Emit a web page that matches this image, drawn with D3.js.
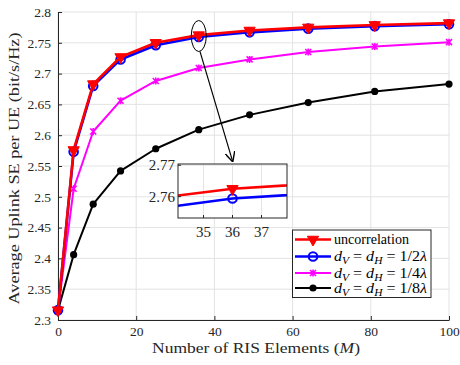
<!DOCTYPE html>
<html><head><meta charset="utf-8">
<script src="https://cdn.jsdelivr.net/npm/d3@7"></script>
</head><body style="margin:0"><svg id="c" width="460" height="365" style="display:block"></svg>
<script>
const M = [0, 4, 9, 16, 25, 36, 49, 64, 81, 100];
const uncorr = [2.316, 2.576, 2.683, 2.727, 2.750, 2.7625, 2.770, 2.775, 2.779, 2.782];
const half = [2.316, 2.573, 2.680, 2.723, 2.746, 2.7594, 2.767, 2.773, 2.777, 2.780];
const quarter = [2.316, 2.513, 2.606, 2.656, 2.688, 2.709, 2.723, 2.735, 2.744, 2.751];
const eighth = [2.316, 2.406, 2.488, 2.542, 2.578, 2.609, 2.633, 2.653, 2.671, 2.683];
const yTicks = [2.3, 2.35, 2.4, 2.45, 2.5, 2.55, 2.6, 2.65, 2.7, 2.75, 2.8];
const xTicks = [0, 20, 40, 60, 80, 100];
const insetXTicks = [35, 36, 37];
const insetYTicks = [2.76, 2.77];
const seriesNames = ["uncorrelation", "1/2", "1/4", "1/8"];

const FONT = '"Liberation Serif"';
const series = [
  {vals: uncorr, color: "#ff0000", w: 2.6, marker: "tri"},
  {vals: half, color: "#0000ff", w: 2.6, marker: "circ"},
  {vals: quarter, color: "#ff00ff", w: 2, marker: "star"},
  {vals: eighth, color: "#000000", w: 2, marker: "dot"}
];

const svg = d3.select("#c");
const x = d3.scaleLinear().domain([0, 100]).range([58, 449]);
const y = d3.scaleLinear().domain([2.3, 2.8]).range([320, 12]);

// grid
const g = svg.append("g");
g.selectAll(".gx").data(xTicks).join("line").attr("x1", d => x(d)).attr("x2", d => x(d)).attr("y1", y(2.3)).attr("y2", y(2.8)).attr("stroke", "#e3e3e3").attr("stroke-width", 1);
g.selectAll(".gy").data(yTicks).join("line").attr("y1", d => y(d)).attr("y2", d => y(d)).attr("x1", x(0)).attr("x2", x(100)).attr("stroke", "#e3e3e3").attr("stroke-width", 1);

// axes
const ax = svg.append("g").attr("transform", `translate(0,${y(2.3)})`).call(d3.axisBottom(x).tickValues(xTicks).tickSizeInner(-4).tickSizeOuter(0).tickPadding(6));
const ay = svg.append("g").attr("transform", `translate(${x(0)},0)`).call(d3.axisLeft(y).tickValues(yTicks).tickFormat(d => String(d)).tickSizeInner(-4).tickSizeOuter(0).tickPadding(7));
[ax, ay].forEach(a => {
  a.attr("font-family", "Liberation Serif");
  a.select(".domain").attr("stroke", "#262626").attr("stroke-width", 1);
  a.selectAll(".tick line").attr("stroke", "#262626");
  a.selectAll("text").attr("font-size", 13.5).attr("fill", "#262626").attr("font-family", "Liberation Serif").style("font-family", FONT);
});

function drawMarker(sel, type, color, size) {
  if (type === "tri") {
    sel.append("path").attr("d", d3.symbol(d3.symbolTriangle, size)()).attr("transform", "rotate(180)").attr("fill", color).attr("stroke", color).attr("stroke-width", 1);
  } else if (type === "circ") {
    sel.append("circle").attr("r", 4.3).attr("fill", "none").attr("stroke", color).attr("stroke-width", 2);
  } else if (type === "star") {
    sel.append("path").attr("d", "M-3,-3L3,3M-3,3L3,-3M0,-3.5L0,3.5").attr("stroke", color).attr("stroke-width", 1.6).attr("fill", "none");
  } else {
    sel.append("circle").attr("r", 3.6).attr("fill", color);
  }
}

const line = d3.line().x((d, i) => x(M[i])).y(d => y(d));
series.slice().reverse().forEach(s => {
  svg.append("path").datum(s.vals).attr("d", line).attr("fill", "none").attr("stroke", s.color).attr("stroke-width", s.w).attr("stroke-linejoin", "round");
  s.vals.forEach((v, i) => {
    const m = svg.append("g").attr("transform", `translate(${x(M[i])},${y(v)})`);
    drawMarker(m, s.marker, s.color, 55);
  });
});

function txt(sel) { return sel.append("text").attr("font-family", "Liberation Serif").style("font-family", FONT); }

// labels
txt(svg).attr("x", 256).attr("y", 353).attr("text-anchor", "middle").attr("font-size", 14).attr("fill", "#262626")
  .attr("textLength", 208).attr("lengthAdjust", "spacingAndGlyphs")
  .call(t => { t.append("tspan").text("Number of RIS Elements ("); t.append("tspan").attr("font-style", "italic").text("M"); t.append("tspan").text(")"); });
txt(svg).attr("transform", "translate(19,168.5) rotate(-90)").attr("text-anchor", "middle").attr("font-size", 15).attr("fill", "#262626")
  .attr("textLength", 272).attr("lengthAdjust", "spacingAndGlyphs").text("Average Uplink SE per UE (bit/s/Hz)");

// ellipse + arrow
svg.append("ellipse").attr("cx", x(36)).attr("cy", 36).attr("rx", 7.5).attr("ry", 15.5).attr("fill", "none").attr("stroke", "#000").attr("stroke-width", 1);
const defs = svg.append("defs");
defs.append("marker").attr("id", "ah").attr("viewBox", "0 0 10 10").attr("refX", 9).attr("refY", 5).attr("markerWidth", 10).attr("markerHeight", 10).attr("markerUnits", "userSpaceOnUse").attr("orient", "auto")
  .append("path").attr("d", "M0,0 L10,5 L0,10").attr("fill", "none").attr("stroke", "#000").attr("stroke-width", 1.4);
svg.append("line").attr("x1", 200).attr("y1", 51.5).attr("x2", 232.5).attr("y2", 161).attr("stroke", "#000").attr("stroke-width", 1.1).attr("marker-end", "url(#ah)");

// inset
const ix = d3.scaleLinear().domain([34.12, 37.88]).range([178, 287]);
const iy = d3.scaleLinear().domain([2.7532, 2.7704]).range([218, 164]);
const ig = svg.append("g");
ig.append("rect").attr("x", 178).attr("y", 164).attr("width", 109).attr("height", 54).attr("fill", "#fff");
defs.append("clipPath").attr("id", "ic").append("rect").attr("x", 178).attr("y", 164).attr("width", 109).attr("height", 54);
ig.selectAll(".igx").data(insetXTicks).join("line").attr("x1", d => ix(d)).attr("x2", d => ix(d)).attr("y1", 164).attr("y2", 218).attr("stroke", "#e3e3e3");
ig.selectAll(".igy").data(insetYTicks).join("line").attr("y1", d => iy(d)).attr("y2", d => iy(d)).attr("x1", 178).attr("x2", 287).attr("stroke", "#e3e3e3");
const iline = d3.line().x((d, i) => ix(M[i])).y(d => iy(d));
const ic = ig.append("g").attr("clip-path", "url(#ic)");
[series[1], series[0]].forEach(s => {
  ic.append("path").datum(s.vals).attr("d", iline).attr("fill", "none").attr("stroke", s.color).attr("stroke-width", s.w);
  const m = ic.append("g").attr("transform", `translate(${ix(36)},${iy(s.vals[5])})`);
  drawMarker(m, s.marker, s.color, 55);
});
ig.append("rect").attr("x", 178).attr("y", 164).attr("width", 109).attr("height", 54).attr("fill", "none").attr("stroke", "#262626").attr("stroke-width", 1);
insetXTicks.forEach(d => {
  txt(ig).attr("x", ix(d)).attr("y", 237).attr("text-anchor", "middle").attr("font-size", 15).attr("fill", "#262626").text(d);
  ig.append("line").attr("x1", ix(d)).attr("x2", ix(d)).attr("y1", 218).attr("y2", 215).attr("stroke", "#262626");
});
insetYTicks.forEach(d => {
  txt(ig).attr("x", 175).attr("y", iy(d) + 5).attr("text-anchor", "end").attr("font-size", 15).attr("fill", "#262626").text(d.toFixed(2));
  ig.append("line").attr("x1", 178).attr("x2", 181).attr("y1", iy(d)).attr("y2", iy(d)).attr("stroke", "#262626");
});

// legend
const lg = svg.append("g");
lg.append("rect").attr("x", 292.5).attr("y", 230).attr("width", 138.5).attr("height", 67.5).attr("fill", "#fff").attr("stroke", "#262626").attr("stroke-width", 1);
const rowsY = [239.5, 256.5, 273, 288];
series.forEach((s, i) => {
  lg.append("line").attr("x1", 295).attr("x2", 331).attr("y1", rowsY[i]).attr("y2", rowsY[i]).attr("stroke", s.color).attr("stroke-width", s.w);
  drawMarker(lg.append("g").attr("transform", `translate(313,${rowsY[i]})`), s.marker, s.color, 55);
  const t = txt(lg).attr("x", 334).attr("y", rowsY[i] + 4.5).attr("font-size", 14).attr("fill", "#000");
  if (i === 0) { t.text(seriesNames[0]).attr("textLength", 75).attr("lengthAdjust", "spacingAndGlyphs"); }
  else {
    t.attr("textLength", 93).attr("lengthAdjust", "spacingAndGlyphs");
    t.append("tspan").attr("font-style", "italic").text("d");
    t.append("tspan").attr("font-style", "italic").attr("font-size", 10).attr("dy", 3).text("V");
    t.append("tspan").attr("dy", -3).text(" = ");
    t.append("tspan").attr("font-style", "italic").text("d");
    t.append("tspan").attr("font-style", "italic").attr("font-size", 10).attr("dy", 3).text("H");
    t.append("tspan").attr("dy", -3).text(" = " + seriesNames[i]);
    t.append("tspan").attr("font-style", "italic").text("λ");
  }
});
</script></body></html>
